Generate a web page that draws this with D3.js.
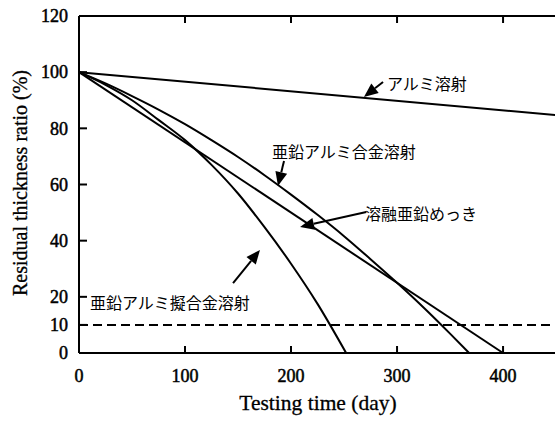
<!DOCTYPE html>
<html><head><meta charset="utf-8">
<script src="https://cdn.jsdelivr.net/npm/d3@7"></script>
<style>body{margin:0;background:#fff}svg{display:block}</style>
</head><body><svg id="c" width="555" height="423"></svg>
<script>
// Data
const alumiDays = [0, 450];
const alumiVals = [100, 84.7];
const alloyDays = [0, 25, 50, 75, 100, 125, 150, 175, 200, 225, 250, 275, 300, 325, 350, 368];
const alloyVals = [100, 96, 91.5, 86.7, 81.5, 75.8, 69.8, 63.3, 56.4, 49.2, 41.6, 33.4, 25, 16.2, 6.9, 0];
const galvDays = [0, 400];
const galvVals = [100, 0];
const pseudoDays = [0, 25, 50, 75, 100, 125, 150, 175, 200, 225, 252];
const pseudoVals = [100, 95.5, 90, 83, 75.8, 67, 56.8, 44.8, 31.8, 17.5, 0];
const yTicks = [0, 10, 20, 40, 60, 80, 100, 120];
const xTicks = [0, 100, 200, 300, 400];
const limitValue = 10;
const labels = [
  {text: "アルミ溶射", tx: 290.5, ty: 93.7, ax: 286.8, ay: 96.5, hx: 268.8, hy: 91.2},
  {text: "亜鉛アルミ合金溶射", tx: 182, ty: 69.4, ax: 193.4, ay: 68.4, hx: 187.7, hy: 59.5},
  {text: "溶融亜鉛めっき", tx: 269.8, ty: 47.4, ax: 271, ay: 50.2, hx: 208.5, hy: 44.9},
  {text: "亜鉛アルミ擬合金溶射", tx: 10.4, ty: 15.7, ax: 145.3, ay: 24.9, hx: 170.7, hy: 36.7}
];

const svg = d3.select("#c");
const x = d3.scaleLinear().domain([0, 449]).range([79, 555]);
const y = d3.scaleLinear().domain([0, 120]).range([353, 16]);

const serif = "'Liberation Serif','Times New Roman',serif";
const jp = "'Noto Sans CJK JP',sans-serif";

// frame lines
svg.append("line").attr("x1", x(0)).attr("x2", x(449)).attr("y1", y(120)).attr("y2", y(120)).attr("stroke", "#000").attr("stroke-width", 2);
svg.append("line").attr("x1", x(0)).attr("x2", x(449)).attr("y1", y(0)).attr("y2", y(0)).attr("stroke", "#000").attr("stroke-width", 2);
svg.append("line").attr("x1", x(0)).attr("x2", x(0)).attr("y1", y(0)).attr("y2", y(120)).attr("stroke", "#000").attr("stroke-width", 2);

// y ticks inward
yTicks.forEach(v => {
  if (v > 0 && v < 120) svg.append("line").attr("x1", x(0)).attr("x2", x(0) + 8).attr("y1", y(v)).attr("y2", y(v)).attr("stroke", "#000").attr("stroke-width", 2);
  svg.append("text").attr("x", 68).attr("y", y(v)).attr("dy", "0.35em").attr("text-anchor", "end")
    .attr("font-family", serif).attr("font-size", 18).attr("stroke", "#000").attr("stroke-width", 0.5).text(v);
});
// x ticks inward bottom and top
xTicks.forEach(v => {
  if (v > 0) {
    svg.append("line").attr("x1", x(v)).attr("x2", x(v)).attr("y1", y(0)).attr("y2", y(0) - 7).attr("stroke", "#000").attr("stroke-width", 2);
    svg.append("line").attr("x1", x(v)).attr("x2", x(v)).attr("y1", y(120)).attr("y2", y(120) + 7).attr("stroke", "#000").attr("stroke-width", 2);
  }
  svg.append("text").attr("x", x(v)).attr("y", 382).attr("text-anchor", "middle")
    .attr("font-family", serif).attr("font-size", 18).attr("stroke", "#000").attr("stroke-width", 0.5).text(v);
});

// axis titles
svg.append("text").attr("x", 318).attr("y", 410).attr("text-anchor", "middle").attr("font-family", serif).attr("font-size", 21.5)
  .attr("stroke", "#000").attr("stroke-width", 0.3).text("Testing time (day)");
svg.append("text").attr("transform", "translate(27,183) rotate(-90)").attr("text-anchor", "middle").attr("font-family", serif).attr("font-size", 20)
  .attr("stroke", "#000").attr("stroke-width", 0.3).text("Residual thickness ratio (%)");

// dashed limit
svg.append("line").attr("x1", x(0)).attr("x2", x(449)).attr("y1", y(limitValue)).attr("y2", y(limitValue))
  .attr("stroke", "#000").attr("stroke-width", 2).attr("stroke-dasharray", "9,5");

// curves
const line = d3.line().x(d => x(d[0])).y(d => y(d[1])).curve(d3.curveMonotoneX);
const g = svg.append("g");
[[alumiDays, alumiVals], [alloyDays, alloyVals], [galvDays, galvVals], [pseudoDays, pseudoVals]].forEach(([ds, vs]) => {
  g.append("path").datum(ds.map((d, i) => [d, vs[i]])).attr("d", line).attr("fill", "none").attr("stroke", "#000").attr("stroke-width", 2);
});

// annotations
labels.forEach(l => {
  svg.append("text").attr("x", x(l.tx)).attr("y", y(l.ty)).attr("font-family", jp).attr("font-size", 16).text(l.text);
  const x1 = x(l.ax), y1 = y(l.ay), x2 = x(l.hx), y2 = y(l.hy);
  const ang = Math.atan2(y2 - y1, x2 - x1);
  const L = 14, W = 6;
  const bx = x2 - L * Math.cos(ang), by = y2 - L * Math.sin(ang);
  svg.append("line").attr("x1", x1).attr("y1", y1).attr("x2", bx).attr("y2", by).attr("stroke", "#000").attr("stroke-width", 2);
  svg.append("path").attr("d", `M${x2},${y2}L${bx + W * Math.sin(ang)},${by - W * Math.cos(ang)}L${bx - W * Math.sin(ang)},${by + W * Math.cos(ang)}Z`).attr("fill", "#000");
});
</script></body></html>
